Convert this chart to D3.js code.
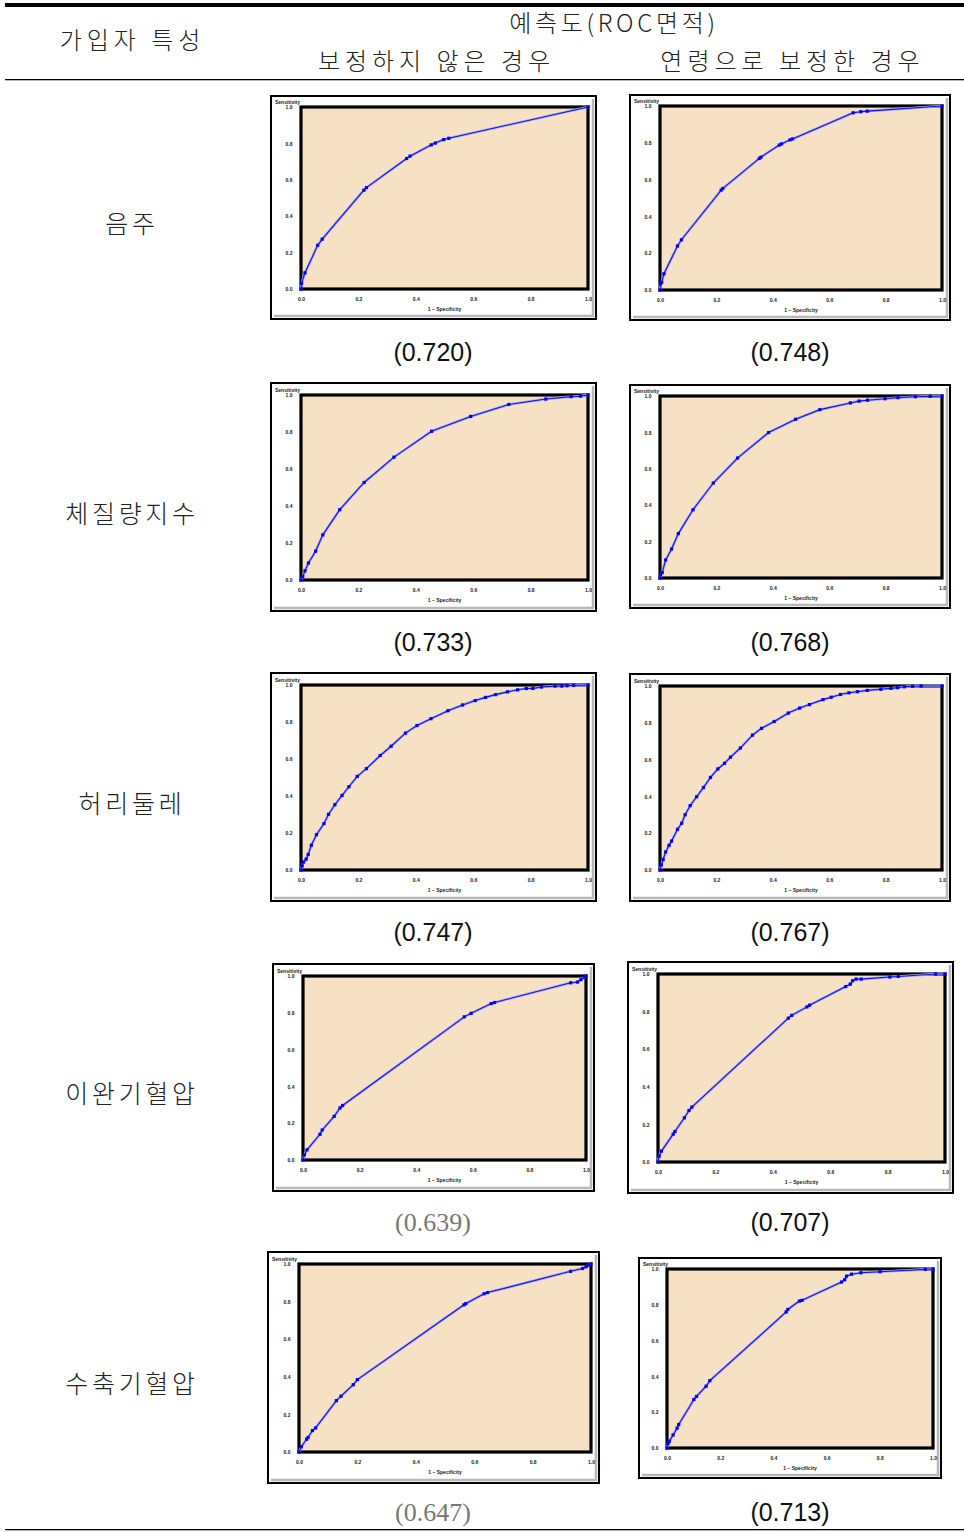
<!DOCTYPE html>
<html>
<head>
<meta charset="utf-8">
<script src="https://cdn.jsdelivr.net/npm/d3@7"></script>
<style>
  body { margin: 0; background: #fff; }
  svg { display: block; }
</style>
</head>
<body>
<div id="chart"></div>
<script>
// row labels and ROC area values
var rowLabels = ["음주", "체질량지수", "허리둘레", "이완기혈압", "수축기혈압"];
var aucRaw = [0.720, 0.733, 0.747, 0.639, 0.647];
var aucAge = [0.748, 0.768, 0.767, 0.707, 0.713];
var tickValues = [0, 0.2, 0.4, 0.6, 0.8, 1.0];

// ROC points [1 - specificity, sensitivity]
var rocDrinkRaw = [[0,0],[0.002,0.032],[0.014,0.089],[0.058,0.24],[0.074,0.274],[0.219,0.543],[0.228,0.557],[0.368,0.717],[0.380,0.730],[0.454,0.792],[0.468,0.802],[0.497,0.821],[0.515,0.828],[1,1]];
var rocDrinkAge = [[0,0],[0.002,0.033],[0.006,0.042],[0.014,0.088],[0.062,0.239],[0.076,0.273],[0.217,0.543],[0.223,0.552],[0.352,0.715],[0.358,0.722],[0.423,0.788],[0.431,0.794],[0.461,0.816],[0.470,0.821],[0.685,0.963],[0.712,0.969],[0.735,0.972],[1,1]];
var rocBmiRaw = [[0,0],[0.006,0.018],[0.014,0.05],[0.026,0.092],[0.051,0.156],[0.076,0.244],[0.135,0.380],[0.220,0.527],[0.324,0.664],[0.455,0.804],[0.591,0.884],[0.724,0.949],[0.853,0.978],[0.941,0.991],[0.974,0.994],[1,1]];
var rocBmiAge = [[0,0],[0.002,0.019],[0.008,0.03],[0.020,0.099],[0.041,0.159],[0.065,0.244],[0.117,0.375],[0.189,0.522],[0.275,0.659],[0.385,0.799],[0.481,0.872],[0.567,0.925],[0.675,0.962],[0.706,0.972],[0.736,0.977],[0.798,0.985],[0.844,0.991],[0.906,0.996],[0.958,0.998],[1,1]];
var rocWaistRaw = [[0,0],[0.004,0.022],[0.009,0.043],[0.018,0.059],[0.025,0.084],[0.036,0.134],[0.054,0.191],[0.080,0.251],[0.096,0.301],[0.118,0.353],[0.143,0.403],[0.167,0.450],[0.196,0.506],[0.228,0.548],[0.276,0.619],[0.314,0.669],[0.364,0.740],[0.404,0.781],[0.453,0.818],[0.512,0.861],[0.563,0.892],[0.607,0.916],[0.643,0.933],[0.678,0.948],[0.720,0.963],[0.755,0.974],[0.785,0.981],[0.808,0.981],[0.838,0.989],[0.885,0.994],[0.909,0.994],[0.927,0.996],[0.950,0.998],[1,1]];
var rocWaistAge = [[0,0],[0.005,0.028],[0.011,0.057],[0.020,0.098],[0.032,0.134],[0.041,0.157],[0.062,0.221],[0.077,0.254],[0.089,0.300],[0.107,0.350],[0.130,0.398],[0.154,0.448],[0.179,0.503],[0.205,0.549],[0.229,0.580],[0.250,0.613],[0.285,0.663],[0.328,0.733],[0.360,0.770],[0.405,0.807],[0.455,0.853],[0.495,0.880],[0.530,0.899],[0.578,0.926],[0.607,0.939],[0.640,0.954],[0.670,0.963],[0.700,0.969],[0.735,0.976],[0.783,0.982],[0.819,0.987],[0.843,0.991],[0.867,0.996],[0.896,0.998],[0.926,1.0],[1,1]];
var rocDbpRaw = [[0,0],[0.005,0.028],[0.014,0.055],[0.060,0.140],[0.068,0.163],[0.110,0.237],[0.131,0.283],[0.140,0.296],[0.570,0.778],[0.594,0.797],[0.665,0.850],[0.677,0.856],[0.946,0.963],[0.970,0.967],[0.982,0.980],[0.994,0.994],[1,1]];
var rocDbpAge = [[0,0],[0.004,0.031],[0.012,0.058],[0.053,0.148],[0.059,0.162],[0.092,0.235],[0.108,0.274],[0.118,0.292],[0.454,0.765],[0.466,0.780],[0.519,0.825],[0.528,0.834],[0.654,0.933],[0.670,0.946],[0.678,0.964],[0.690,0.973],[0.708,0.973],[0.808,0.984],[0.837,0.987],[0.967,1.0],[1,1]];
var rocSbpRaw = [[0,0],[0.008,0.028],[0.026,0.068],[0.031,0.077],[0.046,0.114],[0.057,0.128],[0.128,0.273],[0.144,0.297],[0.186,0.358],[0.200,0.385],[0.565,0.783],[0.571,0.789],[0.634,0.842],[0.646,0.848],[0.930,0.961],[0.971,0.976],[0.983,0.985],[0.991,0.994],[1,1]];
var rocSbpAge = [[0,0],[0.004,0.025],[0.009,0.038],[0.023,0.073],[0.038,0.111],[0.044,0.131],[0.101,0.271],[0.111,0.288],[0.147,0.345],[0.161,0.376],[0.448,0.760],[0.454,0.774],[0.498,0.821],[0.508,0.825],[0.656,0.927],[0.668,0.940],[0.675,0.960],[0.694,0.971],[0.729,0.979],[0.801,0.985],[0.971,0.998],[1,1]];

var rocRaw = [rocDrinkRaw, rocBmiRaw, rocWaistRaw, rocDbpRaw, rocSbpRaw];
var rocAge = [rocDrinkAge, rocBmiAge, rocWaistAge, rocDbpAge, rocSbpAge];

// frame boxes of the small pictures (x, y, w, h), left and right column
var framesRaw = [[270,95,327,225],[270,382,327,230],[270,672,327,230],[272,963,323,229],[267,1251,333,233]];
var framesAge = [[629,94,322,227],[629,384,322,225],[629,673,322,229],[627,961,327,233],[638,1257,304,222]];

var W = 964, H = 1532;
var svg = d3.select("#chart").append("svg")
    .attr("width", W).attr("height", H)
    .attr("viewBox", "0 0 " + W + " " + H);

var korFont = "'Noto Sans CJK KR', sans-serif";

// table rules
svg.append("rect").attr("x", 5).attr("y", 3).attr("width", W - 5).attr("height", 4).attr("fill", "#000");
svg.append("rect").attr("x", 5).attr("y", 79).attr("width", W - 5).attr("height", 1.3).attr("fill", "#000");
svg.append("rect").attr("x", 5).attr("y", 1529).attr("width", W - 5).attr("height", 1.3).attr("fill", "#000");

// header (letter-spacing adds a trailing gap, so x is nudged by half of it)
var header = svg.append("g").attr("font-family", korFont).attr("font-size", 24).attr("fill", "#222")
    .attr("text-anchor", "middle").attr("font-weight", 300);
header.append("text").attr("x", 132.5).attr("y", 49).attr("letter-spacing", 5).text("가입자 특성");
header.append("text").attr("x", 614).attr("y", 32).attr("letter-spacing", 3.7).text("예측도(ROC면적)");
header.append("text").attr("x", 436.5).attr("y", 70).attr("letter-spacing", 5).text("보정하지 않은 경우");
header.append("text").attr("x", 792.5).attr("y", 70).attr("letter-spacing", 5).text("연령으로 보정한 경우");

// row labels
svg.append("g").selectAll("text").data(rowLabels).join("text")
    .attr("x", 132).attr("y", function(d, i) { return 233 + i * 290; })
    .attr("text-anchor", "middle").attr("font-family", korFont).attr("font-size", 25)
    .attr("font-weight", 300).attr("letter-spacing", 3.7).attr("fill", "#222")
    .text(function(d) { return d; });

// AUC labels
function aucLabel(values, cx) {
    svg.append("g").selectAll("text").data(values).join("text")
        .attr("x", cx).attr("y", function(d, i) { return 361 + i * 290; })
        .attr("text-anchor", "middle")
        .attr("font-family", function(d, i) { return (cx < 600 && i >= 3) ? "'Liberation Serif', serif" : "'Liberation Sans', Arial, sans-serif"; })
        .attr("font-size", function(d, i) { return (cx < 600 && i >= 3) ? 26 : 25; })
        .attr("fill", function(d, i) { return (cx < 600 && i >= 3) ? "#777" : "#111"; })
        .text(function(d) { return "(" + d3.format(".3f")(d) + ")"; });
}
aucLabel(aucRaw, 433);
aucLabel(aucAge, 790);

function drawRoc(box, points) {
    var fx = box[0], fy = box[1], fw = box[2], fh = box[3];
    var g = svg.append("g").attr("transform", "translate(" + fx + "," + fy + ")");
    // outer frame
    g.append("rect").attr("x", 1).attr("y", 1).attr("width", fw - 2).attr("height", fh - 2)
        .attr("fill", "#fff").attr("stroke", "#000").attr("stroke-width", 2);
    g.append("path")
        .attr("d", "M" + (fw - 4) + ",4 V" + (fh - 4) + " H4")
        .attr("fill", "none").attr("stroke", "#b8b8b8").attr("stroke-width", 2.5);

    var left = Math.round(fw * 0.095), right = fw - Math.round(fw * 0.028);
    var top = Math.round(fh * 0.055), bottom = fh - Math.round(fh * 0.138);
    var x = d3.scaleLinear().domain([0, 1]).range([left, right]);
    var y = d3.scaleLinear().domain([0, 1]).range([bottom, top]);

    g.append("rect").attr("x", left).attr("y", top).attr("width", right - left).attr("height", bottom - top)
        .attr("fill", "#f6e1c4").attr("stroke", "#000").attr("stroke-width", 3.2);

    var yAxis = g.append("g").attr("transform", "translate(" + (left - 3) + ",0)")
        .call(d3.axisLeft(y).tickValues(tickValues).tickSize(0).tickFormat(d3.format(".1f")));
    var xAxis = g.append("g").attr("transform", "translate(0," + (bottom + 4) + ")")
        .call(d3.axisBottom(x).tickValues(tickValues).tickSize(0).tickFormat(d3.format(".1f")));
    [xAxis, yAxis].forEach(function(a) {
        a.select(".domain").remove();
        a.selectAll("text").attr("font-family", "'Liberation Sans', Arial, sans-serif")
            .attr("font-size", 5).attr("font-weight", "bold").attr("fill", "#222");
    });
    yAxis.selectAll("text").attr("dx", "-0.5em");
    xAxis.selectAll("text").attr("dy", "0.9em");

    g.append("text").attr("x", 5).attr("y", top - 3).attr("font-family", "'Liberation Sans', Arial, sans-serif")
        .attr("font-size", 5).attr("font-weight", "bold").attr("fill", "#222").text("Sensitivity");
    g.append("text").attr("x", (left + right) / 2).attr("y", bottom + 22).attr("text-anchor", "middle")
        .attr("font-family", "'Liberation Sans', Arial, sans-serif")
        .attr("font-size", 5).attr("font-weight", "bold").attr("fill", "#222").text("1 \u2212 Specificity");

    var line = d3.line().x(function(d) { return x(d[0]); }).y(function(d) { return y(d[1]); });
    g.append("path").datum(points).attr("d", line)
        .attr("fill", "none").attr("stroke", "#a7a7f5").attr("stroke-width", 2.6);
    g.append("path").datum(points).attr("d", line)
        .attr("fill", "none").attr("stroke", "#1010f0").attr("stroke-width", 1.1);
    g.append("g").selectAll("rect").data(points).join("rect")
        .attr("x", function(d) { return x(d[0]) - 1.6; })
        .attr("y", function(d) { return y(d[1]) - 1.6; })
        .attr("width", 3.2).attr("height", 3.2).attr("fill", "#0000ff");
}

rocRaw.forEach(function(p, i) { drawRoc(framesRaw[i], p); });
rocAge.forEach(function(p, i) { drawRoc(framesAge[i], p); });
</script>
</body>
</html>
